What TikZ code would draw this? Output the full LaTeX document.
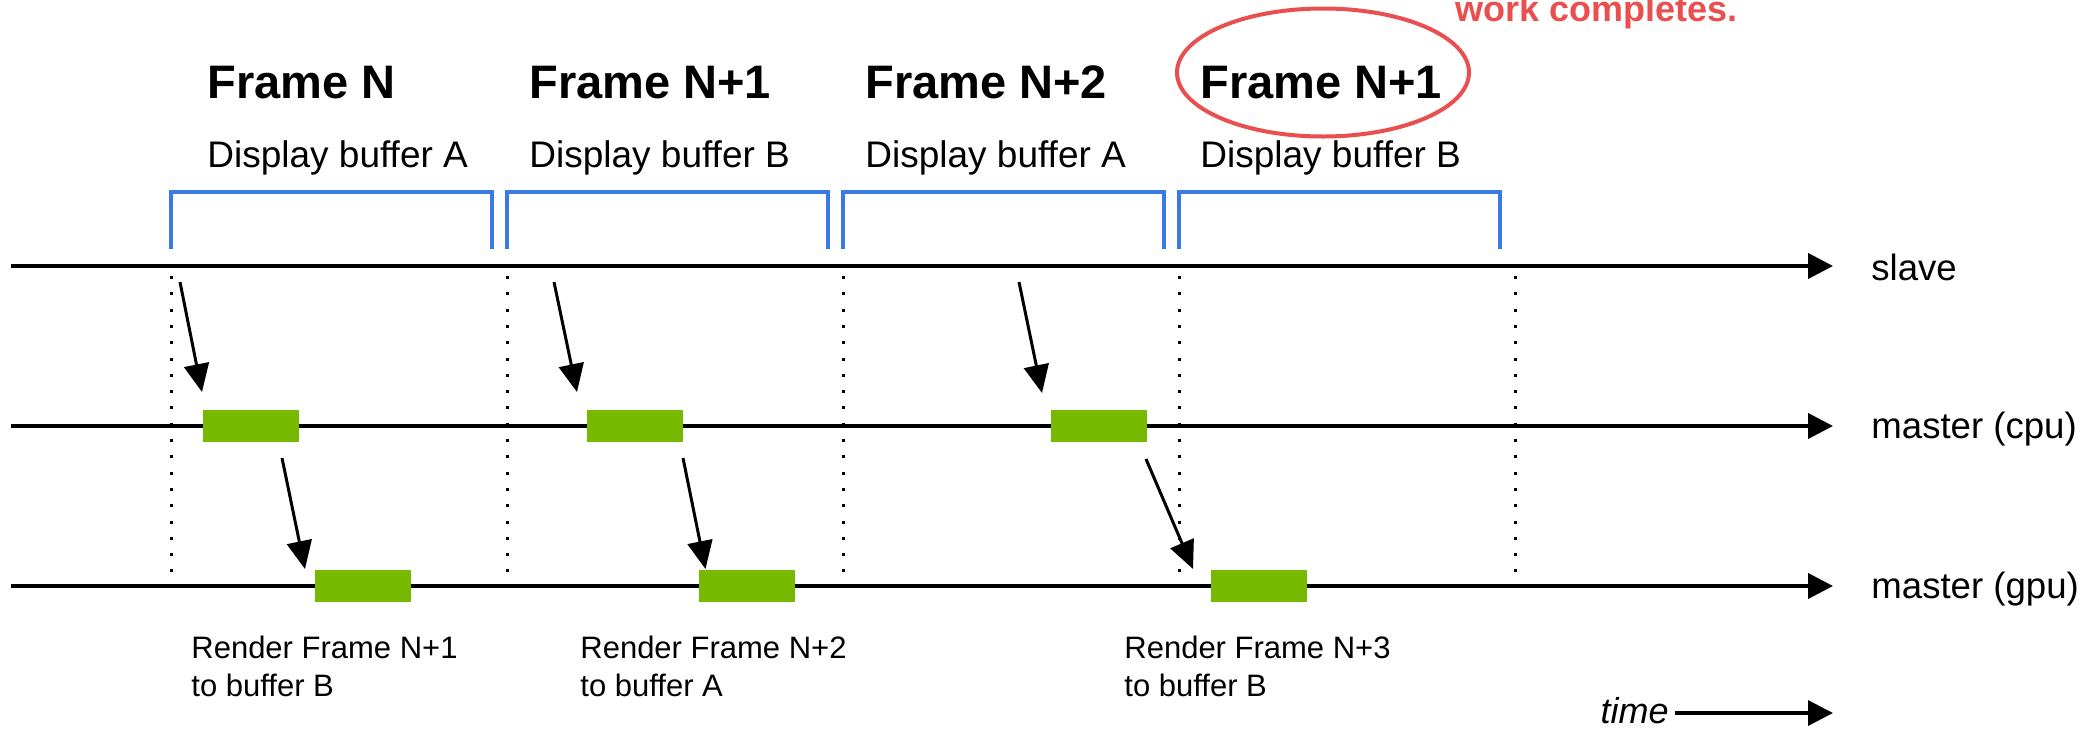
\documentclass[tikz,border=0pt]{standalone}
\usepackage{fontspec}
\setmainfont{Liberation Sans}
\usetikzlibrary{arrows.meta}
\definecolor{gbar}{HTML}{76B900}
\definecolor{bbr}{HTML}{3C78E6}
\definecolor{redc}{HTML}{EA4F50}
\begin{document}
\begin{tikzpicture}[x=0.5pt,y=-0.5pt,
  timeline/.style={line width=2pt,-{Triangle[length=12.5pt,width=12.5pt]}},
  timearr/.style={line width=1.6pt,-{Triangle[length=12.5pt,width=12.5pt]}},
  flow/.style={line width=1.5pt,-{Triangle[length=14pt,width=12.5pt]}},
  dots/.style={line width=1.5pt,dash pattern=on 1.5pt off 6.65pt},
  bracketline/.style={bbr,line width=1.7pt},
  gbox/.style={fill=gbar,draw=none,minimum width=48pt,minimum height=16pt,inner sep=0pt},
  ftitle/.style={anchor=base west,inner sep=0pt,font=\fontsize{23.5}{28}\selectfont\bfseries},
  dbuf/.style={anchor=base west,inner sep=0pt,font=\fontsize{18.5}{22}\selectfont},
  llbl/.style={anchor=base west,inner sep=0pt,font=\fontsize{18.3}{22}\selectfont},
  rlbl/.style={anchor=base west,inner sep=0pt,align=left,font=\fontsize{15.5}{19}\selectfont},
  note/.style={anchor=base west,inner sep=0pt,text=redc,font=\fontsize{18}{22}\selectfont\bfseries}
]
\useasboundingbox (0,0) rectangle (2093,729);
\clip (0,0) rectangle (2093,729);

% red note and highlight
\node[note] (noteTxt) at (1455,21) {work completes.};
\draw[redc,line width=2pt] (1323,72.5) ellipse [x radius=73pt, y radius=32pt];

% frame titles
\node[ftitle] (f1) at (207,98) {Frame N};
\node[ftitle] (f2) at (529,98) {Frame N+1};
\node[ftitle] (f3) at (865,98) {Frame N+2};
\node[ftitle] (f4) at (1200,98) {Frame N+1};

\node[dbuf] (b1) at (207,167) {Display buffer A};
\node[dbuf] (b2) at (529,167) {Display buffer B};
\node[dbuf] (b3) at (865,167) {Display buffer A};
\node[dbuf] (b4) at (1200,167) {Display buffer B};

% brackets
\foreach \x in {171,507,843,1179}{
  \draw[bracketline] (\x,249) -- (\x,192) -- (\x+321,192) -- (\x+321,249);
}

% dotted separators
\foreach \x in {171,507,843,1179,1515}{
  \draw[dots] (\x,276) -- (\x,585);
}

% timelines
\coordinate (slS) at (11,266);   \coordinate (slE) at (1833,266);
\coordinate (cpS) at (11,426);   \coordinate (cpE) at (1833,426);
\coordinate (gpS) at (11,586);   \coordinate (gpE) at (1833,586);
\draw[timeline] (slS) -- (slE);
\draw[timeline] (cpS) -- (cpE);
\draw[timeline] (gpS) -- (gpE);
\node[llbl] (slLbl) at (1871,280) {slave};
\node[llbl] (cpLbl) at (1871,438) {master (cpu)};
\node[llbl] (gpLbl) at (1871,598) {master (gpu)};

% work boxes
\node[gbox] (cpu1) at (251,426) {};
\node[gbox] (gpu1) at (363,586) {};
\node[gbox] (cpu2) at (635,426) {};
\node[gbox] (gpu2) at (747,586) {};
\node[gbox] (cpu3) at (1099,426) {};
\node[gbox] (gpu3) at (1259,586) {};

% flow arrows
\coordinate (a1s) at (180,282);  \coordinate (a1e) at (202,392);
\coordinate (c1s) at (282,458);  \coordinate (c1e) at (305,569);
\coordinate (a2s) at (554,282);  \coordinate (a2e) at (577,392);
\coordinate (c2s) at (683,458);  \coordinate (c2e) at (705.5,569);
\coordinate (a3s) at (1019,282); \coordinate (a3e) at (1042,393);
\coordinate (c3s) at (1146,459); \coordinate (c3e) at (1193,569);
\draw[flow] (a1s) -- (a1e);
\draw[flow] (c1s) -- (c1e);
\draw[flow] (a2s) -- (a2e);
\draw[flow] (c2s) -- (c2e);
\draw[flow] (a3s) -- (a3e);
\draw[flow] (c3s) -- (c3e);

% render labels (base anchor = baseline of last line)
\node[rlbl] (r1) at (191,696) {Render Frame N+1\\to buffer B};
\node[rlbl] (r2) at (580,696) {Render Frame N+2\\to buffer A};
\node[rlbl] (r3) at (1124,696) {Render Frame N+3\\to buffer B};

% time arrow
\node[anchor=base east,inner sep=0pt,font=\fontsize{18}{22}\selectfont\itshape] (timeLbl) at (1669,723) {time};
\coordinate (tS) at (1675,713); \coordinate (tE) at (1833,713);
\draw[timearr] (tS) -- (tE);
\end{tikzpicture}
\end{document}
